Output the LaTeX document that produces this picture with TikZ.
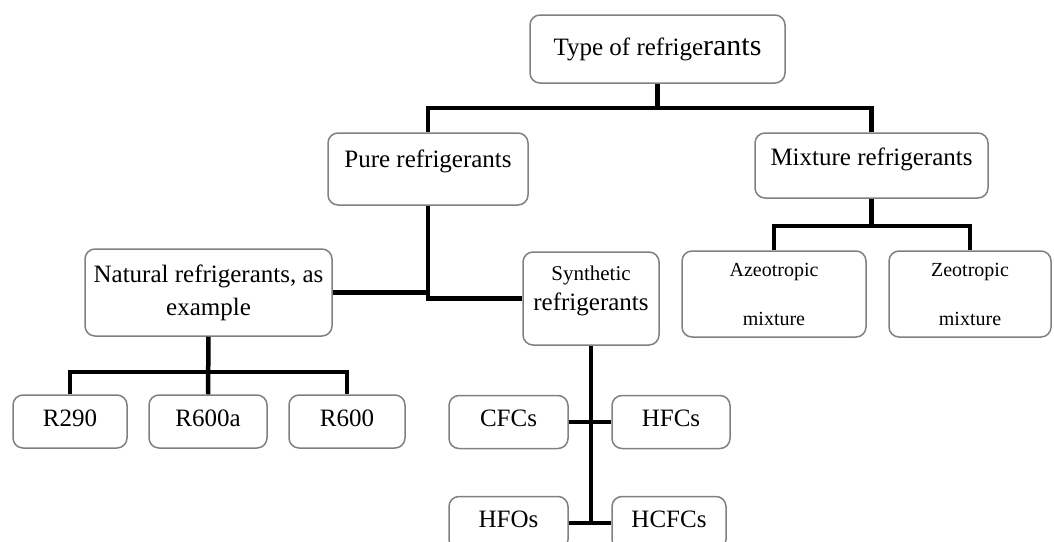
\documentclass[tikz,border=0pt]{standalone}
\usepackage{fontspec}
\setmainfont{Liberation Serif}
\begin{document}
\begin{tikzpicture}[
  x=1pt, y=-1pt,
  rfbox/.style = {draw=black!50, line width=1.5pt, rounded corners=10pt, fill=white,
                  inner sep=0pt, align=center, font=\fontsize{25}{33}\selectfont},
  rfsmall/.style = {rfbox, minimum width=118pt, text height=31pt, text depth=22pt},
  rfmix/.style = {rfbox, minimum height=86pt, font=\fontsize{20}{24}\selectfont},
  rfline/.style = {line width=4.5pt, black}
]
  \useasboundingbox (0,0) rectangle (1054,541);
  % top levels
  \node[rfbox, minimum width=255pt, text height=40pt, text depth=28pt] (type) at (657.5,49)
    {Type of refrige{\fontsize{30}{33}\selectfont rants}};
  \node[rfbox, minimum width=200pt, text height=34pt, text depth=38pt] (pure) at (428,169)
    {Pure refrigerants};
  \node[rfbox, minimum width=233pt, text height=32pt, text depth=33pt] (mix) at (871.5,165.5)
    {Mixture refrigerants};
  % pure refrigerants
  \node[rfbox, minimum width=247pt, minimum height=87pt] (natural) at (208.5,292.5)
    {Natural refrigerants, as\\example};
  \node[rfbox, minimum width=136pt, text height=58pt, text depth=35pt] (synth) at (591,298.5)
    {{\fontsize{21}{24}\selectfont Synthetic}\\[-3pt]refrigerants};
  % mixtures
  \node[rfmix, minimum width=184pt] (azeo) at (774,294) {Azeotropic\\[25pt]mixture};
  \node[rfmix, minimum width=162pt] (zeo) at (970,294) {Zeotropic\\[25pt]mixture};
  % natural examples
  \node[rfsmall, minimum width=114pt] (r290) at (70,421.5) {R290};
  \node[rfsmall] (r600a) at (208,421.5) {R600a};
  \node[rfsmall, minimum width=116pt] (r600) at (347,421.5) {R600};
  % synthetic groups
  \node[rfsmall, minimum width=119pt] (cfc) at (508.5,422) {CFCs};
  \node[rfsmall] (hfc) at (671,422) {HFCs};
  \node[rfsmall, minimum width=119pt] (hfo) at (508.5,523) {HFOs};
  \node[rfsmall, minimum width=114pt] (hcfc) at (669,523) {HCFCs};
  % joints
  \coordinate (topjoin) at (657.5,108);
  \coordinate (mixjoin) at (871.5,226);
  \coordinate (natjoin) at (208.5,372);
  % connectors
  \draw[rfline] (type.south) -- (topjoin);
  \draw[rfline] (pure.north) |- (topjoin) -| (mix.north);
  \draw[rfline] (mix.south) -- (mixjoin);
  \draw[rfline] (azeo.north) |- (mixjoin) -| (zeo.north);
  \draw[rfline] (natural.east) -- (natural.east -| pure.south);
  \draw[rfline] (pure.south) |- (synth.west);
  \draw[rfline] (natural.south) -- (r600a.north);
  \draw[rfline] (r290.north) |- (natjoin) -| (r600.north);
  \draw[rfline] (synth.south) -- (synth.south |- hfo.east);
  \draw[rfline] (cfc.east) -- (hfc.west);
  \draw[rfline] (hfo.east) -- (hcfc.west);
\end{tikzpicture}
\end{document}
